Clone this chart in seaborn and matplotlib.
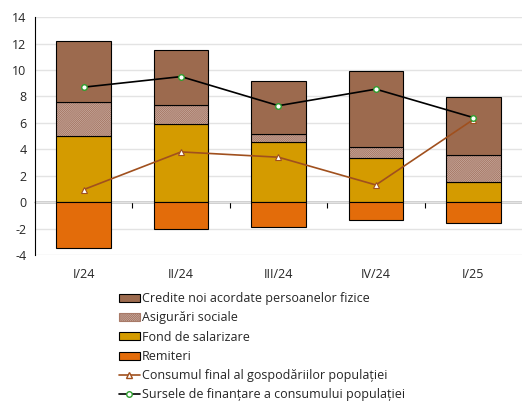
import numpy as np
import pandas as pd
import matplotlib
matplotlib.use("Agg")
import matplotlib.pyplot as plt
import seaborn as sns
from matplotlib.patches import Patch
from matplotlib.lines import Line2D

# Date (puncte procentuale)
trimestre = ["I/24", "II/24", "III/24", "IV/24", "I/25"]
fond_salarizare = [5.0, 5.9, 4.55, 3.35, 1.5]
asigurari_sociale = [2.6, 1.45, 0.6, 0.85, 2.05]
credite_noi = [4.6, 4.2, 4.05, 5.7, 4.4]
remiteri = [-3.5, -2.05, -1.9, -1.35, -1.55]
consumul_final = [0.95, 3.8, 3.4, 1.3, 6.25]
sursele_finantare = [8.7, 9.5, 7.3, 8.55, 6.4]

c_credite = "#9C6A4E"
c_asig = "#A87A68"
c_fond = "#D49B00"
c_remiteri = "#E36C0A"
c_consum = "#A0501E"
c_surse = "#000000"
hasura = "////////////////"

sns.set_style("white")
plt.rcParams["font.family"] = ["Open Sans", "DejaVu Sans"]
plt.rcParams["axes.unicode_minus"] = False
plt.rcParams["hatch.linewidth"] = 0.9

df = pd.DataFrame({
    "trim": trimestre,
    "fond": fond_salarizare,
    "asig": asigurari_sociale,
    "credite": credite_noi,
    "remiteri": remiteri,
    "consum": consumul_final,
    "surse": sursele_finantare,
})
df["b_asig"] = df["fond"]
df["b_cred"] = df["fond"] + df["asig"]

fig = plt.figure(figsize=(5.22, 4.08), dpi=100)
ax = fig.add_axes([0.067, 0.375, 0.933, 0.583])

w = 0.56
sns.barplot(data=df, x="trim", y="fond", order=trimestre, color=c_fond,
            width=w, edgecolor="black", linewidth=0.8, saturation=1, ax=ax)
sns.barplot(data=df, x="trim", y="remiteri", order=trimestre, color=c_remiteri,
            width=w, edgecolor="black", linewidth=0.8, saturation=1, ax=ax)
# hasura pentru asigurari sociale
sns.barplot(data=df, x="trim", y="asig", order=trimestre, color="white",
            bottom=df["b_asig"].to_numpy(), width=w, edgecolor=c_asig,
            hatch=hasura, linewidth=0, saturation=1, ax=ax)
sns.barplot(data=df, x="trim", y="asig", order=trimestre, color="black",
            fill=False, bottom=df["b_asig"].to_numpy(), width=w,
            linewidth=0.8, saturation=1, ax=ax)
sns.barplot(data=df, x="trim", y="credite", order=trimestre, color=c_credite,
            bottom=df["b_cred"].to_numpy(), width=w, edgecolor="black",
            linewidth=0.8, saturation=1, ax=ax)

sns.pointplot(data=df, x="trim", y="consum", order=trimestre, color=c_consum,
              markers="^", markersize=4, linewidth=1.2, errorbar=None,
              markerfacecolor="white", markeredgecolor=c_consum,
              markeredgewidth=0.8, ax=ax)
sns.pointplot(data=df, x="trim", y="surse", order=trimestre, color=c_surse,
              markers="o", markersize=4, linewidth=1.2, errorbar=None,
              markerfacecolor="white", markeredgecolor="#2E9E2E",
              markeredgewidth=1.0, ax=ax)

ax.set_xlim(-0.5, 4.5)
ax.set_ylim(-4, 14)
ax.set_yticks(np.arange(-4, 15, 2))
ax.yaxis.grid(True, color="#E3E3E3", linewidth=1.0)
ax.set_axisbelow(True)
ax.set_xlabel("")
ax.set_ylabel("")
for s in ["top", "right", "bottom"]:
    ax.spines[s].set_visible(False)
ax.spines["left"].set_color("black")
ax.spines["left"].set_linewidth(0.8)
ax.tick_params(axis="y", direction="out", length=4, width=0.8, color="black",
               labelsize=9, pad=2)
ax.tick_params(axis="x", length=0, labelsize=9, pad=9)

# axa zero cu marcaje intre categorii
sec = ax.secondary_xaxis(4 / 18)
sec.set_xticks(np.arange(0.5, 4.5, 1.0))
sec.set_xticklabels([])
sec.tick_params(direction="out", length=4, width=0.8, color="black")
sec.spines["bottom"].set_color("black")
sec.spines["bottom"].set_linewidth(1.0)

handles = [
    Patch(facecolor=c_credite, edgecolor="black", linewidth=0.8,
          label="Credite noi acordate persoanelor fizice"),
    Patch(facecolor="white", edgecolor=c_asig, hatch=hasura, linewidth=0.8,
          label="Asigurări sociale"),
    Patch(facecolor=c_fond, edgecolor="black", linewidth=0.8,
          label="Fond de salarizare"),
    Patch(facecolor=c_remiteri, edgecolor="black", linewidth=0.8,
          label="Remiteri"),
    Line2D([], [], color=c_consum, marker="^", markersize=4,
           markerfacecolor="white", markeredgecolor=c_consum, linewidth=1.2,
           label="Consumul final al gospodăriilor populației"),
    Line2D([], [], color=c_surse, marker="o", markersize=4,
           markerfacecolor="white", markeredgecolor="#2E9E2E", linewidth=1.2,
           label="Sursele de finanțare a consumului populației"),
]
fig.legend(handles=handles, loc="upper left", bbox_to_anchor=(0.218, 0.296),
           frameon=False, fontsize=9, handlelength=1.7, handleheight=0.6,
           handletextpad=0.15, labelspacing=0.5, borderaxespad=0)

fig.savefig("out.png", dpi=100)
